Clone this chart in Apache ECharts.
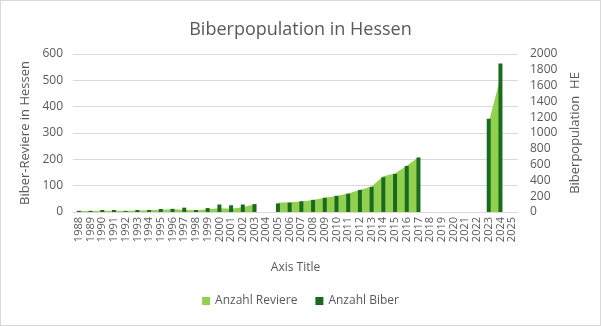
<!DOCTYPE html>
<html>
<head>
<meta charset="utf-8">
<script src="https://cdn.jsdelivr.net/npm/echarts@6/dist/echarts.min.js"></script>
<style>
  html, body { margin: 0; padding: 0; background: #fff; }
  #chart { width: 601px; height: 326px; box-sizing: border-box; border: 1px solid #d9d9d9; }
</style>
</head>
<body>
<div id="chart"></div>
<script>
// Years shown on the category axis
const years = [];
for (let y = 1988; y <= 2025; y++) years.push(String(y));

// Number of beaver territories (left axis); null = no survey
const reviere = [4, 4, 5, 5, 5, 6, 7, 9, 10, 9, 7, 10, 14, 12, 18, 29, null,
  35, 37, 40, 46, 54, 61, 70, 84, 97, 136, 146, 176, 208,
  null, null, null, null, null, 340, 510, null];

// Number of beavers (right axis); null = no survey
const biber = [15, 15, 25, 25, 12, 25, 25, 38, 40, 55, 25, 50, 95, 85, 95, 100, null,
  108, 118, 136, 154, 180, 205, 232, 280, 318, 440, 482, 582, 690,
  null, null, null, null, null, 1180, 1880, null];

const FONT = '"Open Sans", "Noto Sans", sans-serif';
const GREY = '#595959';

const chart = echarts.init(document.getElementById('chart'), null, { renderer: 'canvas' });
chart.setOption({
  animation: false,
  title: {
    text: 'Biberpopulation in Hessen',
    left: 'center',
    top: 15,
    textStyle: { fontFamily: FONT, fontSize: 18, fontWeight: 'normal', color: GREY }
  },
  legend: {
    bottom: 13,
    left: 'center',
    itemWidth: 8,
    itemHeight: 8,
    itemGap: 18,
    icon: 'rect',
    textStyle: { fontFamily: FONT, fontSize: 12, color: GREY },
    data: ['Anzahl Reviere', 'Anzahl Biber']
  },
  grid: { left: 72, right: 82, top: 53, bottom: 113 },
  xAxis: {
    type: 'category',
    data: years,
    boundaryGap: true,
    name: 'Axis Title',
    nameLocation: 'middle',
    nameGap: 50,
    nameTextStyle: { fontFamily: FONT, fontSize: 12, color: GREY },
    axisLine: { lineStyle: { color: '#d9d9d9' } },
    axisTick: { show: false },
    axisLabel: { rotate: 90, interval: 0, fontFamily: FONT, fontSize: 11, color: GREY, margin: 5 }
  },
  yAxis: [
    {
      type: 'value',
      min: 0, max: 600, interval: 100,
      name: 'Biber-Reviere in Hessen',
      nameLocation: 'middle',
      nameGap: 37,
      nameTextStyle: { fontFamily: FONT, fontSize: 13, color: GREY },
      axisLabel: { fontFamily: FONT, fontSize: 12, color: GREY, margin: 10 },
      splitLine: { lineStyle: { color: '#d9d9d9' } },
      axisLine: { show: false },
      axisTick: { show: false }
    },
    {
      type: 'value',
      min: 0, max: 2000, interval: 200,
      name: 'Biberpopulation  HE',
      nameLocation: 'middle',
      nameGap: 47,
      nameTextStyle: { fontFamily: FONT, fontSize: 13, color: GREY },
      axisLabel: { fontFamily: FONT, fontSize: 12, color: GREY, margin: 12, formatter: v => String(v) },
      splitLine: { show: false },
      axisLine: { show: false },
      axisTick: { show: false }
    }
  ],
  series: [
    {
      name: 'Anzahl Reviere',
      type: 'line',
      yAxisIndex: 0,
      data: reviere,
      symbol: 'none',
      connectNulls: false,
      lineStyle: { width: 0, color: '#92d050' },
      itemStyle: { color: '#92d050' },
      areaStyle: { color: '#92d050', opacity: 1 },
      z: 1
    },
    {
      name: 'Anzahl Biber',
      type: 'bar',
      yAxisIndex: 1,
      data: biber,
      barWidth: 4,
      itemStyle: { color: '#1b6b1f' },
      z: 2
    }
  ]
});
</script>
</body>
</html>
